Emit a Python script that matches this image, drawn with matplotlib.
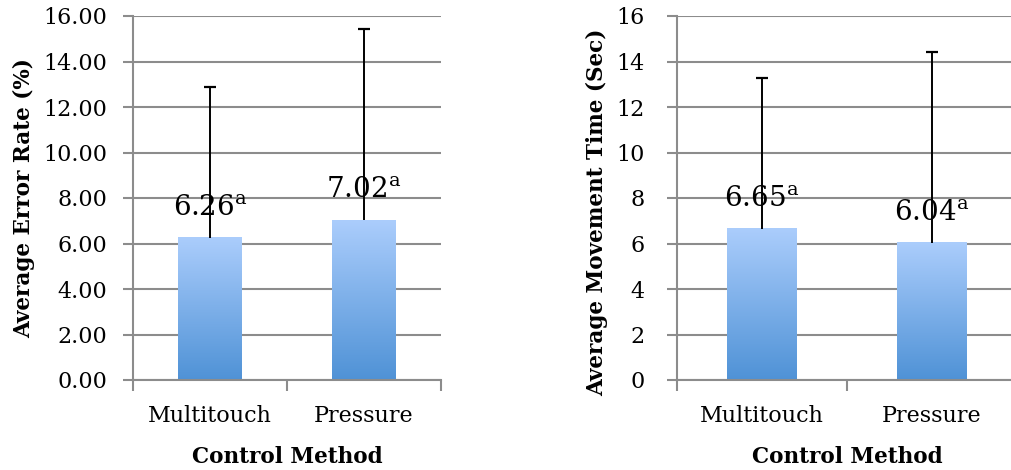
import numpy as np
import matplotlib
matplotlib.use("Agg")
from matplotlib import pyplot as plt
from matplotlib.colors import LinearSegmentedColormap

#_____________________________DATA_______________________________________#
methods = ["Multitouch", "Pressure"]
error_rate = [6.26, 7.02]        # average error rate (%)
error_rate_sd = [6.63, 8.39]     # upper error bar length
move_time = [6.65, 6.04]         # average movement time (sec)
move_time_sd = [6.64, 8.36]
sig_letters = ["a", "a"]

#_____________________________STYLE______________________________________#
plt.rcParams['font.family'] = ['DejaVu Serif']
plt.rcParams['mathtext.fontset'] = 'dejavuserif'
grid_col = '#8c8c8c'
bar_cmap = LinearSegmentedColormap.from_list('bars', ['#4f92d6', '#abcdfc'])


def draw_panel(ax, values, sd, letters, ylabel, fmt, tick_pad, ylabel_pos):
    x = np.arange(len(values))
    width = 0.41

    # gradient bars (light on top, darker at the bottom)
    grad = np.linspace(0, 1, 256).reshape(-1, 1)
    for xi, v in zip(x, values):
        ax.imshow(grad, cmap=bar_cmap, origin='lower', aspect='auto',
                  extent=(xi - width / 2, xi + width / 2, 0, v), zorder=2)
    ax.set_xlim(-0.5, len(values) - 0.5)
    ax.set_ylim(0, 16)

    # only the upper half of the error bar, cap on top only
    tops = np.array(values) + np.array(sd)
    ax.vlines(x, values, tops, color='black', linewidth=1.4, zorder=3)
    ax.plot(x, tops, ls='none', marker='_', ms=8, mew=1.6, color='black', zorder=3)

    for xi, v, l in zip(x, values, letters):
        ax.annotate("%.2f$^{\\mathrm{%s}}$" % (v, l), (xi, v), xytext=(0, 22),
                    textcoords='offset points', ha='center', va='center',
                    fontsize=20, zorder=4)

    ax.set_yticks(np.arange(0, 17, 2))
    ax.set_yticklabels([fmt % t for t in np.arange(0, 17, 2)])
    ax.yaxis.grid(True, color=grid_col, linewidth=1.5)
    ax.set_axisbelow(True)

    ax.set_xticks(np.arange(-0.5, len(values), 1.0))
    ax.set_xticklabels([])
    ax.set_xticks(x, minor=True)
    ax.set_xticklabels(methods, minor=True, fontsize=16)
    ax.tick_params(axis='x', which='minor', length=0, pad=18)
    ax.tick_params(axis='x', which='major', length=8, width=1.5, color=grid_col)
    ax.tick_params(axis='y', length=7, width=1.5, color=grid_col, labelsize=16, pad=tick_pad)

    for s in ['top', 'right']:
        ax.spines[s].set_visible(False)
    for s in ['left', 'bottom']:
        ax.spines[s].set_color(grid_col)
        ax.spines[s].set_linewidth(1.5)

    ax.set_ylabel(ylabel, fontsize=15.5, fontweight='bold')
    ax.yaxis.set_label_coords(*ylabel_pos)
    ax.set_xlabel("Control Method", fontsize=15.5, fontweight='bold')
    ax.xaxis.set_label_coords(0.5, -0.18)


#_____________________________MAIN_______________________________________#
fig = plt.figure(figsize=(10.12, 4.70), dpi=100)
ax1 = fig.add_axes([133 / 1012, 90 / 470, 308 / 1012, 364 / 470])
ax2 = fig.add_axes([677 / 1012, 90 / 470, 340 / 1012, 364 / 470])

draw_panel(ax1, error_rate, error_rate_sd, sig_letters,
           "Average Error Rate (%)", "%.2f", 11.5, (-0.318, 0.5))
draw_panel(ax2, move_time, move_time_sd, sig_letters,
           "Average Movement Time (Sec)", "%d", 16.5, (-0.203, 0.46))

fig.savefig("out.png", dpi=100)
